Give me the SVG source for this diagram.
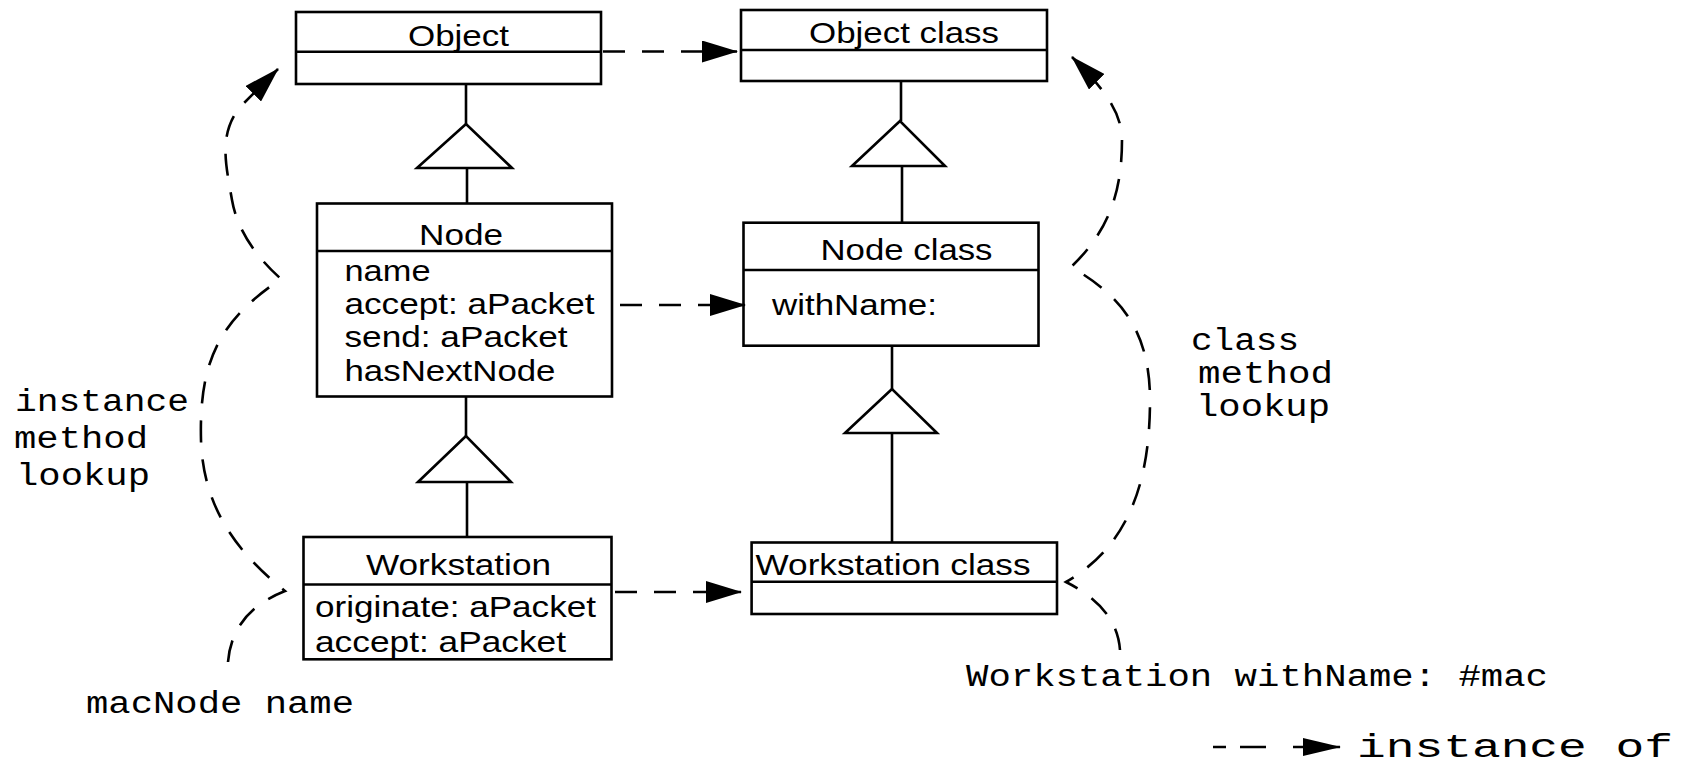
<svg xmlns="http://www.w3.org/2000/svg" width="1682" height="765" viewBox="0 0 1682 765">
<style>
.box{fill:#fff;stroke:#000;stroke-width:2.6}
.ln{fill:none;stroke:#000;stroke-width:2.6}
.tri{fill:#fff;stroke:#000;stroke-width:2.6;stroke-linejoin:miter}
.dash{fill:none;stroke:#000;stroke-width:2.6;stroke-dasharray:22 17}
.t{font-family:"Liberation Sans",Arial,Helvetica,sans-serif;font-size:30px;fill:#000}
.m{font-family:"Liberation Mono","Courier New",monospace;font-size:31px;fill:#000}
</style>
<defs>
<marker id="ah" markerUnits="userSpaceOnUse" markerWidth="36" markerHeight="22" refX="35" refY="11" orient="auto" viewBox="0 0 36 22">
<path d="M0,0 L36,11 L0,22 Z" fill="#000"/>
</marker>
<marker id="ahs" markerUnits="userSpaceOnUse" markerWidth="38" markerHeight="18" refX="37" refY="9" orient="auto" viewBox="0 0 38 18">
<path d="M0,0 L38,9 L0,18 Z" fill="#000"/>
</marker>
</defs>
<rect width="1682" height="765" fill="#fff"/>

<g id="inheritance">
<line class="ln" x1="466" y1="84" x2="466" y2="124"/>
<polygon class="tri" points="466,124 417,168 512,168"/>
<line class="ln" x1="467" y1="168" x2="467" y2="203"/>
<line class="ln" x1="901" y1="80" x2="901" y2="121"/>
<polygon class="tri" points="900,121 852,166 945,166"/>
<line class="ln" x1="902" y1="166" x2="902" y2="223"/>
<line class="ln" x1="466" y1="397" x2="466" y2="436"/>
<polygon class="tri" points="466,436 418,482 511,482"/>
<line class="ln" x1="467" y1="482" x2="467" y2="537"/>
<line class="ln" x1="892" y1="346" x2="892" y2="389"/>
<polygon class="tri" points="892,389 845,433 937,433"/>
<line class="ln" x1="892" y1="433" x2="892" y2="542"/>
</g>

<g id="node-object">
<rect class="box" x="296" y="12" width="305" height="72"/>
<line class="ln" x1="296" y1="51.7" x2="601" y2="51.7"/>
<text class="t" x="408" y="45.5" textLength="101" lengthAdjust="spacingAndGlyphs">Object</text>
</g>
<g id="node-object-class">
<rect class="box" x="741" y="10" width="306" height="71"/>
<line class="ln" x1="741" y1="50" x2="1047" y2="50"/>
<text class="t" x="809" y="42.5" textLength="190" lengthAdjust="spacingAndGlyphs">Object class</text>
</g>
<g id="node-node">
<rect class="box" x="317" y="203.5" width="295" height="193"/>
<line class="ln" x1="317" y1="251" x2="612" y2="251"/>
<text class="t" x="419" y="245" textLength="84" lengthAdjust="spacingAndGlyphs">Node</text>
<text class="t" x="344.5" y="280.7" textLength="86" lengthAdjust="spacingAndGlyphs">name</text>
<text class="t" x="344.5" y="314" textLength="250" lengthAdjust="spacingAndGlyphs">accept: aPacket</text>
<text class="t" x="344.5" y="347.3" textLength="223" lengthAdjust="spacingAndGlyphs">send: aPacket</text>
<text class="t" x="344.5" y="380.7" textLength="211" lengthAdjust="spacingAndGlyphs">hasNextNode</text>
</g>
<g id="node-node-class">
<rect class="box" x="743.5" y="222.7" width="295" height="123"/>
<line class="ln" x1="743.5" y1="270" x2="1038.5" y2="270"/>
<text class="t" x="820.5" y="260" textLength="172" lengthAdjust="spacingAndGlyphs">Node class</text>
<text class="t" x="772" y="315" textLength="165" lengthAdjust="spacingAndGlyphs">withName:</text>
</g>
<g id="node-workstation">
<rect class="box" x="303.5" y="537" width="308" height="122.3"/>
<line class="ln" x1="303.5" y1="584.5" x2="611.5" y2="584.5"/>
<text class="t" x="366" y="575" textLength="185" lengthAdjust="spacingAndGlyphs">Workstation</text>
<text class="t" x="315" y="617" textLength="281" lengthAdjust="spacingAndGlyphs">originate: aPacket</text>
<text class="t" x="315" y="651.7" textLength="251" lengthAdjust="spacingAndGlyphs">accept: aPacket</text>
</g>
<g id="node-workstation-class">
<rect class="box" x="751.6" y="542.5" width="305.4" height="71.5"/>
<line class="ln" x1="751.6" y1="581.7" x2="1057" y2="581.7"/>
<text class="t" x="755.5" y="575" textLength="275" lengthAdjust="spacingAndGlyphs">Workstation class</text>
</g>

<g id="connectors">
<path class="dash" d="M603,51.5 L737,51.5" marker-end="url(#ah)"/>
<path class="dash" d="M620,305 L745,305" marker-end="url(#ah)"/>
<path class="dash" d="M615,592 L741,592" marker-end="url(#ah)"/>
<path class="dash" d="M228,662 Q232,612 285,591 C240,555 203,510 201,440 C199,360 220,320 281,279 C262,262 238,235 232,200 C226,165 218,135 240,107 L278,69" marker-end="url(#ah)"/>
<path class="dash" d="M1120,650 C1118,620 1098,598 1066,582 C1130,545 1150,480 1150,400 C1150,330 1120,295 1071,267 C1110,230 1122,190 1122,140 C1122,110 1100,85 1072,57" marker-end="url(#ah)"/>
</g>

<g id="labels">
<text class="m" x="15" y="410.7" textLength="174" lengthAdjust="spacingAndGlyphs">instance</text>
<text class="m" x="14" y="448.3" textLength="134" lengthAdjust="spacingAndGlyphs">method</text>
<text class="m" x="16" y="485" textLength="134" lengthAdjust="spacingAndGlyphs">lookup</text>
<text class="m" x="1191" y="350" textLength="108" lengthAdjust="spacingAndGlyphs">class</text>
<text class="m" x="1198" y="383.3" textLength="135" lengthAdjust="spacingAndGlyphs">method</text>
<text class="m" x="1196" y="416" textLength="134" lengthAdjust="spacingAndGlyphs">lookup</text>
<text class="m" x="86" y="712.7" textLength="268" lengthAdjust="spacingAndGlyphs">macNode name</text>
<text class="m" x="966" y="686" textLength="582" lengthAdjust="spacingAndGlyphs">Workstation withName: #mac</text>
</g>

<g id="legend">
<path class="ln" d="M1213,747 L1340,747" style="stroke-dasharray:13 14 26 27 100" marker-end="url(#ahs)"/>
<text class="m" x="1357" y="757" style="font-size:34px" textLength="316" lengthAdjust="spacingAndGlyphs">instance of</text>
</g>
</svg>
